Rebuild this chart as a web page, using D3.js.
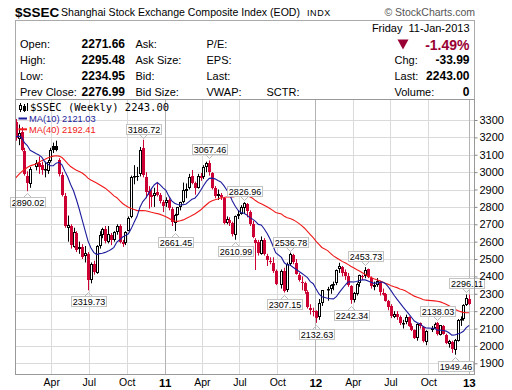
<!DOCTYPE html>
<html><head><meta charset="utf-8">
<script src="https://cdnjs.cloudflare.com/ajax/libs/d3/7.8.5/d3.min.js"></script>
<style>body{margin:0;background:#fff} svg{display:block}</style>
</head><body><svg id="c" width="512" height="390"></svg>
<script>
// ---- Data (weekly bars, Friday dates) ----
const weeks = [
"2010-01-08","2010-01-15","2010-01-22","2010-01-29","2010-02-05","2010-02-12","2010-02-26","2010-03-05","2010-03-12","2010-03-19","2010-03-26","2010-04-02","2010-04-09","2010-04-16","2010-04-23","2010-04-30","2010-05-07","2010-05-14","2010-05-21","2010-05-28","2010-06-04","2010-06-11","2010-06-18","2010-06-25","2010-07-02","2010-07-09","2010-07-16","2010-07-23","2010-07-30","2010-08-06","2010-08-13","2010-08-20","2010-08-27","2010-09-03","2010-09-10","2010-09-17","2010-09-24","2010-10-01","2010-10-08","2010-10-15","2010-10-22","2010-10-29","2010-11-05","2010-11-12","2010-11-19","2010-11-26","2010-12-03","2010-12-10","2010-12-17","2010-12-24","2010-12-31",
"2011-01-07","2011-01-14","2011-01-21","2011-01-28","2011-02-04","2011-02-11","2011-02-18","2011-02-25","2011-03-04","2011-03-11","2011-03-18","2011-03-25","2011-04-01","2011-04-08","2011-04-15","2011-04-22","2011-04-29","2011-05-06","2011-05-13","2011-05-20","2011-05-27","2011-06-03","2011-06-10","2011-06-17","2011-06-24","2011-07-01","2011-07-08","2011-07-15","2011-07-22","2011-07-29","2011-08-05","2011-08-12","2011-08-19","2011-08-26","2011-09-02","2011-09-09","2011-09-16","2011-09-23","2011-09-30","2011-10-14","2011-10-21","2011-10-28","2011-11-04","2011-11-11","2011-11-18","2011-11-25","2011-12-02","2011-12-09","2011-12-16","2011-12-23","2011-12-30",
"2012-01-06","2012-01-13","2012-01-20","2012-02-03","2012-02-10","2012-02-17","2012-02-24","2012-03-02","2012-03-09","2012-03-16","2012-03-23","2012-03-30","2012-04-06","2012-04-13","2012-04-20","2012-04-27","2012-05-04","2012-05-11","2012-05-18","2012-05-25","2012-06-01","2012-06-08","2012-06-15","2012-06-22","2012-06-29","2012-07-06","2012-07-13","2012-07-20","2012-07-27","2012-08-03","2012-08-10","2012-08-17","2012-08-24","2012-08-31","2012-09-07","2012-09-14","2012-09-21","2012-09-28","2012-10-12","2012-10-19","2012-10-26","2012-11-02","2012-11-09","2012-11-16","2012-11-23","2012-11-30","2012-12-07","2012-12-14","2012-12-21","2012-12-28",
"2013-01-04","2013-01-11"];

const opens = [
3289,3190,3230,3120,2980,2930,3030,3050,3040,3010,3005,3065,3150,3150,3070,2985,2860,2680,2690,2570,2650,2555,2570,2520,2530,2380,2470,2420,2575,2640,2670,2600,2640,2610,2655,2690,2598,2590,2660,2740,2975,2980,2990,3140,2970,2890,2870,2860,2885,2870,2830,
2825,2840,2790,2705,2755,2800,2830,2890,2910,2975,2935,2910,2980,2970,3030,3055,2995,2910,2860,2870,2850,2705,2725,2705,2640,2745,2760,2795,2818,2770,2700,2610,2600,2530,2610,2520,2490,2480,2430,2350,2430,2320,2470,2525,2480,2410,2370,2360,2310,2220,2200,
2200,2165,2245,2320,2330,2350,2360,2440,2455,2425,2400,2345,2265,2300,2360,2405,2400,2440,2390,2340,2350,2370,2305,2300,2258,2230,2165,2185,2165,2130,2135,2165,2115,2090,2045,2130,2110,2020,2090,2105,2130,2065,2115,2065,2010,2025,1975,2030,2150,2155,
2235,2271.66];
const highs = [
3306,3274,3260,3140,3005,3030,3070,3090,3060,3060,3070,3140,3170,3181,3080,3000,2880,2750,2700,2680,2660,2600,2585,2575,2540,2480,2490,2580,2660,2680,2690,2690,2650,2660,2700,2700,2610,2660,2745,2980,3040,3030,3145,3186.72,3000,2920,2900,2910,2940,2880,2840,
2855,2850,2800,2760,2800,2830,2940,2935,2990,3012,2945,2990,2995,3040,3060,3067.46,3000,2920,2900,2880,2855,2745,2740,2715,2750,2780,2810,2826.96,2822,2780,2720,2620,2610,2630,2620,2530,2510,2510,2440,2440,2450,2480,2536.78,2530,2500,2420,2400,2370,2320,2240,2220,
2205,2270,2320,2340,2355,2370,2440,2478,2460,2440,2420,2350,2310,2365,2410,2410,2453.73,2445,2400,2370,2390,2375,2330,2305,2265,2240,2200,2200,2175,2150,2180,2170,2130,2095,2130,2135,2115,2090,2115,2135,2138.03,2120,2120,2070,2035,2030,2040,2155,2170,2240,
2296.11,2295.48];
const lows = [
3181,3155,3120,2980,2890.02,2910,3010,2990,2985,2970,2990,3055,3110,3120,2975,2860,2680,2600,2560,2565,2540,2530,2500,2480,2319.73,2360,2410,2415,2560,2620,2590,2590,2580,2600,2640,2590,2570,2580,2660,2735,2930,2950,2975,2970,2850,2790,2800,2800,2860,2820,2770,
2800,2780,2690,2661.45,2750,2780,2820,2850,2900,2930,2870,2905,2950,2960,3000,2980,2900,2850,2840,2840,2700,2700,2690,2630,2610.99,2730,2755,2760,2740,2690,2620,2437,2520,2525,2520,2460,2470,2420,2350,2330,2307.15,2310,2460,2470,2410,2370,2320,2300,2215,2180,2170,
2132.63,2150,2230,2260,2300,2320,2350,2420,2400,2380,2340,2242.34,2250,2290,2340,2380,2390,2390,2330,2320,2340,2290,2290,2255,2205,2160,2160,2150,2120,2100,2125,2110,2085,2040,2030,2100,2020,2004,2080,2100,2060,2060,2065,2010,1990,1960,1949.46,2025,2115,2145,
2230,2234.95];
const closes = [
3196,3224,3128,2989,2935,3018,3051,3031,3013,3018,3059,3129,3130,3130,2990,2870,2688,2696,2583,2655,2553,2569,2514,2535,2382,2470,2424,2573,2637,2672,2606,2642,2611,2655,2688,2598,2585,2656,2738,2971,2976,2979,3129,2985,2888,2871,2857,2880,2866,2833,2808,
2839,2791,2715,2752,2798,2827,2899,2905,2971,2938,2906,2977,2967,3030,3050,2999,2911,2864,2872,2858,2709,2728,2705,2642,2746,2759,2797,2820,2774,2701,2626,2593,2534,2612,2528,2497,2482,2432,2359,2431,2317,2473,2528,2481,2416,2380,2361,2315,2224,2204,2199,
2163,2245,2319,2330,2351,2357,2439,2460,2421,2405,2349,2263,2302,2359,2406,2397,2438,2394,2345,2349,2373,2309,2306,2261,2225,2170,2185,2168,2132,2133,2168,2115,2092,2047,2127,2114,2026,2086,2105,2128,2066,2118,2069,2014,2028,1980,2033,2150,2153,2233,
2276,2243.00];
// weekly closes before the visible range (for moving averages)
const priorCloses = [2374,2444,2445,2508,2451,2477,2626,2645,2611,2633,2750,2743,2880,2924,3033,3090,3189,3373,3412,3260,3113,2960,2860,2861,3030,3059,2880,2779,2911,3038,3081,2995,3194,3187,3308,3096,3295,3232,3114,3141,3277];

const priceTicks = [1900,2000,2100,2200,2300,2400,2500,2600,2700,2800,2900,3000,3100,3200,3300];
const timeTickDates = ["2010-04-01","2010-07-01","2010-10-01","2011-01-01","2011-04-01","2011-07-01","2011-10-01","2012-01-01","2012-04-01","2012-07-01","2012-10-01","2013-01-07"];
const timeTickLabels = ["Apr","Jul","Oct","11","Apr","Jul","Oct","12","Apr","Jul","Oct","13"];

// swing-point annotations
const annotWeeks = ["2010-02-05","2010-07-02","2010-11-12","2011-01-28","2011-04-22","2011-06-24","2011-07-15","2011-10-21","2011-11-04","2012-01-06","2012-03-30","2012-05-04","2012-10-26","2012-12-07","2013-01-04"];
const annotValues = [2890.02,2319.73,3186.72,2661.45,3067.46,2610.99,2826.96,2307.15,2536.78,2132.63,2242.34,2453.73,2138.03,1949.46,2296.11];
const annotKinds = ["low","low","high","low","high","low","high","low","high","low","low","high","high","low","high"];

const maPeriods = [10, 40];
const maLegendValues = ["2121.03","2192.41"];

// ---- Chart ----
const svg = d3.select("#c");
const FONT = "'Liberation Sans', Arial, sans-serif";
const L = 15.5, R = 474.5, T = 99.5, B = 374.5;
const RED = "#cc0033";
const parse = d3.utcParse("%Y-%m-%d");

const x = d3.scaleUtc().domain([parse("2010-01-01"), parse("2013-01-01")]).range([14.1, 466.3]);
const y = d3.scaleLinear().domain([1900, 3300]).range([363.3, 120]);
const barX = s => x(d3.utcDay.offset(parse(s), -3));

const bars = weeks.map((w, i) => ({w, o: opens[i], h: highs[i], l: lows[i], c: closes[i], prev: i ? closes[i-1] : priorCloses[priorCloses.length-1]}));

// header
const hdr = svg.append("g").attr("font-family", FONT);
hdr.append("text").attr("x", 15).attr("y", 17).attr("font-size", 13.5).attr("font-weight", "bold").text("$SSEC");
hdr.append("text").attr("x", 61).attr("y", 16).attr("font-size", 10.5).attr("textLength", 239).attr("lengthAdjust", "spacingAndGlyphs").text("Shanghai Stock Exchange Composite Index (EOD)");
hdr.append("text").attr("x", 307).attr("y", 16).attr("font-size", 9).attr("letter-spacing", 0.6).text("INDX");
hdr.append("text").attr("x", 475).attr("y", 15.5).attr("text-anchor", "end").attr("font-size", 10.5).attr("fill", "#555").text("© StockCharts.com");
hdr.append("rect").attr("x", L).attr("y", 20.5).attr("width", R - L).attr("height", T - 20.5).attr("fill", "none").attr("stroke", "#aaa");
hdr.append("text").attr("x", 469.5).attr("y", 32).attr("text-anchor", "end").attr("font-size", 11).attr("xml:space", "preserve").text("Friday  11-Jan-2013");

const rowsY = [47.5, 63.5, 79.5, 95.5];
const col1 = ["Open:", "High:", "Low:", "Prev Close:"];
const col1v = ["2271.66", "2295.48", "2234.95", "2276.99"];
const col2 = ["Ask:", "Ask Size:", "Bid:", "Bid Size:"];
const col3 = ["P/E:", "EPS:", "Last:", "VWAP:"];
rowsY.forEach((ry, i) => {
  hdr.append("text").attr("x", 20).attr("y", ry).attr("font-size", 11).text(col1[i]);
  hdr.append("text").attr("x", 125).attr("y", ry).attr("text-anchor", "end").attr("font-size", 12).attr("font-weight", "bold").text(col1v[i]);
  hdr.append("text").attr("x", 135.5).attr("y", ry).attr("font-size", 11).text(col2[i]);
  hdr.append("text").attr("x", 206.5).attr("y", ry).attr("font-size", 11).text(col3[i]);
});
hdr.append("text").attr("x", 266.5).attr("y", rowsY[3]).attr("font-size", 11).text("SCTR:");
hdr.append("path").attr("d", "M397.5,39.5 L408.5,39.5 L403,49.5 Z").attr("fill", "#990033");
hdr.append("text").attr("x", 469.5).attr("y", 49.5).attr("text-anchor", "end").attr("font-size", 14).attr("font-weight", "bold").attr("fill", "#990033").text("-1.49%");
const rlab = ["Chg:", "Last:", "Volume:"], rval = ["-33.99", "2243.00", "0"];
rlab.forEach((t, i) => {
  hdr.append("text").attr("x", 394.5).attr("y", rowsY[i+1]).attr("font-size", 11).text(t);
  hdr.append("text").attr("x", 469.5).attr("y", rowsY[i+1]).attr("text-anchor", "end").attr("font-size", 12).attr("font-weight", "bold").text(rval[i]);
});

// grid
const grid = svg.append("g");
priceTicks.forEach(p => {
  const yy = Math.round(y(p)) + 0.5;
  grid.append("line").attr("x1", L).attr("x2", R).attr("y1", yy).attr("y2", yy).attr("stroke", "#dadada");
});
timeTickDates.forEach((d, i) => {
  const xx = Math.round(x(parse(d))) + 0.5;
  const yr = /^\d\d$/.test(timeTickLabels[i]);
  grid.append("line").attr("x1", xx).attr("x2", xx).attr("y1", T).attr("y2", B).attr("stroke", yr ? "#b4b4b4" : "#dadada");
});

// candles
const cg = svg.append("g");
bars.forEach(b => {
  const cx = Math.round(barX(b.w));
  const col = b.c < b.prev ? RED : "#000";
  const hollow = b.c > b.o;
  cg.append("line").attr("x1", cx + 0.5).attr("x2", cx + 0.5).attr("y1", y(b.h)).attr("y2", y(b.l)).attr("stroke", col);
  const top = Math.round(y(Math.max(b.o, b.c))), bot = Math.round(y(Math.min(b.o, b.c)));
  const h = Math.max(1, bot - top);
  if (hollow) {
    cg.append("rect").attr("x", cx - 0.5).attr("y", top + 0.5).attr("width", 2).attr("height", Math.max(0.5, h - 1))
      .attr("fill", "#fff").attr("stroke", col).attr("stroke-width", 1);
  } else {
    cg.append("rect").attr("x", cx - 1).attr("y", top).attr("width", 3).attr("height", h).attr("fill", col);
  }
});

// moving averages
const all = priorCloses.concat(closes);
const off = priorCloses.length;
function ma(n) {
  return closes.map((c, i) => d3.mean(all.slice(off + i - n + 1, off + i + 1)));
}
const lineGen = d3.line().x((d, i) => barX(weeks[i])).y(d => y(d)).curve(d3.curveLinear);
svg.append("path").attr("d", lineGen(ma(maPeriods[1]))).attr("fill", "none").attr("stroke", "#f01818").attr("stroke-width", 1.1);
svg.append("path").attr("d", lineGen(ma(maPeriods[0]))).attr("fill", "none").attr("stroke", "#1c1c9c").attr("stroke-width", 1.1);

// annotations
const ag = svg.append("g").attr("font-family", FONT).attr("font-size", 9);
annotWeeks.forEach((w, i) => {
  const px = Math.round(barX(w)) + 0.5;
  const py = y(annotValues[i]);
  const txt = annotValues[i].toFixed(2);
  const bw = 35, bh = 10;
  const bx = Math.round(px - bw / 2) + 0.5;
  let by, edge, tip;
  if (annotKinds[i] === "high") { by = Math.round(py - 6 - bh) + 0.5; edge = by + bh; tip = edge + 4; }
  else { by = Math.round(py + 6) + 0.5; edge = by; tip = edge - 4; }
  ag.append("path").attr("d", `M${px-4},${edge} L${px},${tip} L${px+4},${edge}`).attr("fill", "none").attr("stroke", "#bbb");
  ag.append("rect").attr("x", bx).attr("y", by).attr("width", bw).attr("height", bh).attr("fill", "#fff").attr("stroke", "#c4c4c4");
  ag.append("text").attr("x", bx + bw / 2).attr("y", by + 8.3).attr("text-anchor", "middle").text(txt);
});

// plot border
svg.append("rect").attr("x", L).attr("y", T).attr("width", R - L).attr("height", B - T).attr("fill", "none").attr("stroke", "#999");

// axes
const yAxis = d3.axisRight(y).tickValues(priceTicks).tickSize(3).tickPadding(2).tickFormat(d3.format("d"));
const ya = svg.append("g").attr("transform", `translate(${R},0)`).call(yAxis);
ya.select(".domain").remove();
ya.selectAll("line").attr("stroke", "#888");
ya.selectAll("text").attr("font-family", FONT).attr("font-size", 11).attr("fill", "#000");

const xAxis = d3.axisBottom(x).tickValues(timeTickDates.map(parse)).tickSize(0).tickPadding(4.5)
  .tickFormat((d, i) => timeTickLabels[i]);
const xa = svg.append("g").attr("transform", `translate(0,${B})`).call(xAxis);
xa.select(".domain").remove();
xa.selectAll("text").attr("font-family", FONT).attr("fill", "#000")
  .attr("font-weight", (d, i) => /^\d\d$/.test(timeTickLabels[i]) ? "bold" : "normal")
  .attr("font-size", (d, i) => /^\d\d$/.test(timeTickLabels[i]) ? 11.5 : 10.5);

// legend
const lg = svg.append("g");
lg.append("line").attr("x1", 20.5).attr("x2", 20.5).attr("y1", 103).attr("y2", 112).attr("stroke", "#000");
lg.append("rect").attr("x", 19.5).attr("y", 105.5).attr("width", 2).attr("height", 4).attr("fill", "#fff").attr("stroke", "#000");
lg.append("line").attr("x1", 24.5).attr("x2", 24.5).attr("y1", 104).attr("y2", 112).attr("stroke", "#000");
lg.append("rect").attr("x", 23).attr("y", 106).attr("width", 3).attr("height", 5).attr("fill", "#000");
lg.append("line").attr("x1", 27.5).attr("x2", 27.5).attr("y1", 103).attr("y2", 111).attr("stroke", "#000");
lg.append("text").attr("x", 30).attr("y", 111).attr("font-family", "'DejaVu Sans Mono', monospace").attr("font-size", 10.5).text("$SSEC (Weekly) 2243.00");
const legCols = ["#1c1c9c", "#f01818"];
[0, 1].forEach(k => {
  const ly = 118.5 + k * 10.8;
  lg.append("line").attr("x1", 18.5).attr("x2", 27).attr("y1", ly).attr("y2", ly).attr("stroke", legCols[k]).attr("stroke-width", 2);
  lg.append("text").attr("x", 29).attr("y", ly + 3.3).attr("font-family", FONT).attr("font-size", 9.3).attr("fill", legCols[k])
    .text(`MA(${maPeriods[k]}) ${maLegendValues[k]}`);
});
</script>
</body></html>
